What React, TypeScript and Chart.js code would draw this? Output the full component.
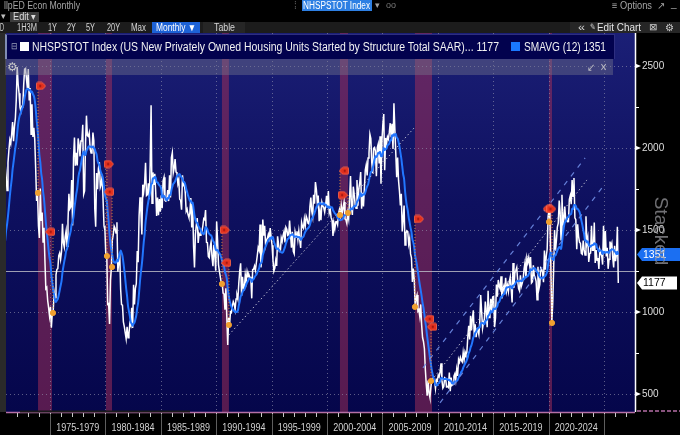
import React, { useEffect, useRef } from 'react';
import { Chart, registerables } from 'chart.js';

Chart.register(...registerables);

// ---------- DATA ----------
const firstYear = 1970; // first monthly observation: Jan 1970
// NHSPSTOT monthly, thousands of units SAAR
const housingStarts: number[] = [
  // 1970
  1085, 1305, 1319, 1264, 1290, 1385, 1517, 1399, 1534, 1580, 1647, 1893,
  // 1971
  1828, 1741, 1910, 1986, 2049, 2026, 2083, 2158, 2041, 2128, 2182, 2295,
  // 1972
  2494, 2390, 2334, 2249, 2221, 2254, 2252, 2382, 2481, 2485, 2421, 2366,
  // 1973
  2481, 2289, 2365, 2084, 2266, 2067, 2123, 2051, 1874, 1677, 1724, 1526,
  // 1974
  1451, 1752, 1555, 1607, 1426, 1513, 1316, 1142, 1150, 1070, 1026, 975,
  // 1975
  1032, 904, 993, 1005, 1121, 1087, 1226, 1260, 1264, 1344, 1360, 1321,
  // 1976
  1367, 1538, 1421, 1395, 1459, 1495, 1401, 1550, 1720, 1629, 1641, 1804,
  // 1977
  1527, 1943, 2063, 1892, 1971, 1893, 2058, 2020, 1949, 2042, 2042, 2142,
  // 1978
  1718, 1738, 2032, 2197, 2075, 2070, 2092, 1996, 1970, 1981, 2094, 2044,
  // 1979
  1630, 1520, 1847, 1748, 1876, 1913, 1760, 1778, 1832, 1681, 1524, 1498,
  // 1980
  1341, 1350, 1047, 1051, 927, 1196, 1269, 1436, 1471, 1523, 1510, 1482,
  // 1981
  1547, 1246, 1306, 1360, 1140, 1045, 1041, 940, 911, 873, 837, 910,
  // 1982
  843, 866, 931, 917, 1025, 902, 1166, 1046, 1144, 1173, 1372, 1303,
  // 1983
  1586, 1699, 1606, 1472, 1776, 1733, 1785, 1910, 1710, 1715, 1785, 1688,
  // 1984
  1897, 2260, 1663, 1851, 1774, 1843, 1732, 1586, 1698, 1590, 1689, 1612,
  // 1985
  1711, 1632, 1800, 1821, 1680, 1676, 1684, 1743, 1676, 1834, 1698, 1942,
  // 1986
  1972, 1848, 1876, 1933, 1854, 1847, 1782, 1807, 1687, 1681, 1623, 1833,
  // 1987
  1774, 1784, 1726, 1614, 1628, 1594, 1575, 1605, 1695, 1515, 1656, 1400,
  // 1988
  1271, 1473, 1532, 1573, 1421, 1478, 1467, 1493, 1492, 1522, 1569, 1563,
  // 1989
  1621, 1425, 1422, 1339, 1331, 1397, 1427, 1332, 1279, 1410, 1351, 1251,
  // 1990
  1551, 1437, 1289, 1248, 1212, 1177, 1171, 1115, 1110, 1014, 1145, 969,
  // 1991
  798, 965, 921, 1001, 996, 1036, 1063, 1049, 1015, 1079, 1103, 1079,
  // 1992
  1176, 1250, 1297, 1099, 1214, 1145, 1139, 1226, 1186, 1244, 1214, 1227,
  // 1993
  1210, 1210, 1083, 1258, 1260, 1280, 1254, 1300, 1343, 1392, 1376, 1533,
  // 1994
  1272, 1337, 1564, 1465, 1526, 1409, 1439, 1450, 1474, 1450, 1511, 1455,
  // 1995
  1407, 1316, 1249, 1267, 1314, 1281, 1461, 1416, 1369, 1369, 1452, 1431,
  // 1996
  1467, 1491, 1424, 1516, 1504, 1467, 1472, 1557, 1475, 1392, 1489, 1370,
  // 1997
  1355, 1486, 1457, 1492, 1442, 1494, 1437, 1390, 1546, 1520, 1510, 1566,
  // 1998
  1525, 1584, 1567, 1540, 1536, 1641, 1698, 1614, 1582, 1715, 1660, 1792,
  // 1999
  1748, 1670, 1710, 1553, 1611, 1559, 1669, 1648, 1635, 1608, 1648, 1708,
  // 2000
  1636, 1737, 1604, 1626, 1575, 1559, 1463, 1541, 1507, 1549, 1551, 1532,
  // 2001
  1600, 1625, 1590, 1649, 1605, 1636, 1670, 1567, 1562, 1540, 1602, 1568,
  // 2002
  1698, 1829, 1642, 1592, 1764, 1717, 1655, 1633, 1804, 1648, 1753, 1788,
  // 2003
  1853, 1629, 1726, 1643, 1751, 1867, 1897, 1833, 1939, 1967, 2083, 2057,
  // 2004
  1911, 1846, 1998, 2003, 1981, 1828, 2002, 2024, 1905, 2072, 1782, 2042,
  // 2005
  2144, 2207, 1864, 2061, 2025, 2068, 2054, 2095, 2151, 2065, 2147, 1994,
  // 2006
  2273, 2119, 1969, 1821, 1942, 1802, 1737, 1650, 1720, 1491, 1570, 1649,
  // 2007
  1409, 1480, 1495, 1490, 1415, 1448, 1354, 1330, 1183, 1264, 1197, 1037,
  // 2008
  1084, 1103, 1005, 1013, 973, 1046, 923, 844, 820, 777, 652, 560,
  // 2009
  490, 582, 505, 478, 540, 585, 594, 586, 585, 534, 588, 581,
  // 2010
  614, 604, 636, 687, 583, 536, 546, 599, 594, 543, 545, 539,
  // 2011
  630, 517, 600, 554, 561, 608, 623, 585, 650, 610, 711, 694,
  // 2012
  723, 704, 695, 753, 708, 757, 740, 754, 847, 915, 833, 976,
  // 2013
  888, 962, 1010, 853, 925, 846, 893, 889, 863, 941, 1103, 1003,
  // 2014
  901, 934, 957, 1063, 1004, 907, 1129, 966, 1017, 1080, 1001, 1092,
  // 2015
  1095, 908, 963, 1167, 1093, 1195, 1156, 1141, 1217, 1082, 1138, 1158,
  // 2016
  1112, 1208, 1129, 1162, 1126, 1186, 1214, 1141, 1058, 1298, 1147, 1239,
  // 2017
  1253, 1271, 1192, 1143, 1129, 1223, 1156, 1176, 1205, 1264, 1302, 1208,
  // 2018
  1329, 1300, 1331, 1287, 1335, 1177, 1184, 1284, 1221, 1209, 1187, 1074,
  // 2019
  1275, 1139, 1168, 1268, 1261, 1242, 1182, 1375, 1257, 1340, 1384, 1583,
  // 2020
  1622, 1560, 1268, 931, 1053, 1263, 1500, 1373, 1437, 1518, 1541, 1680,
  // 2021
  1608, 1441, 1715, 1528, 1565, 1642, 1567, 1563, 1550, 1551, 1687, 1710,
  // 2022
  1657, 1805, 1705, 1817, 1574, 1562, 1382, 1534, 1461, 1426, 1419, 1357,
  // 2023
  1352, 1436, 1380, 1348, 1583, 1418, 1451, 1305, 1356, 1359, 1525, 1376,
  // 2024
  1376, 1546, 1299, 1377, 1315, 1329, 1262, 1379, 1355, 1344, 1289, 1526,
  // 2025
  1366, 1494, 1339, 1392, 1263, 1321, 1429, 1400, 1420, 1330, 1272, 1404,
  // 2026
  1310, 1350, 1520, 1177,
];
const smaWindow = 12;

const periodBreaks = [1975, 1980, 1985, 1990, 1995, 2000, 2005, 2010, 2015, 2020, 2025];
const periodLabels = ['1975-1979', '1980-1984', '1985-1989', '1990-1994', '1995-1999', '2000-2004', '2005-2009', '2010-2014', '2015-2019', '2020-2024'];
const yTickValues = [500, 750, 1000, 1250, 1500, 1750, 2000, 2250, 2500];
const referenceLevel = 1250;

const recessionStart = [1973.92, 1980.05, 1990.52, 2001.17, 2007.94, 2020.04];
const recessionEnd = [1975.18, 1980.6, 1991.15, 2001.9, 2009.48, 2020.31];

// event markers
const redMarkerYears = [1974.19, 1975.0, 1980.32, 1980.32, 1990.79, 1990.88, 2001.53, 2001.44, 2008.3, 2009.2, 2009.48, 2019.93, 2020.25];
const redMarkerValues = [2378, 1488, 1902, 1732, 1500, 1299, 1860, 1713, 1567, 957, 909, 1628, 1628];
const redMarkerRotation = [0, 180, 0, 180, 0, 180, 180, 0, 0, 180, 180, 180, 0];
const orangeYears = [1973.92, 1975.27, 1980.14, 1980.6, 1990.52, 1991.15, 2001.17, 2001.9, 2007.94, 2009.39, 2020.04, 2020.31];
const orangeValues = [1726, 994, 1341, 1274, 1171, 921, 1591, 1604, 1031, 579, 1549, 933];
const connectorFromValues = [2378, 1488, 1902, 1732, 1500, 1299, 1860, 1713, 1567, 909, 1628, 1628];

// trend lines [x0, x1] / [y0, y1]
const trendWhiteAYears = [1991.15, 2007.94];
const trendWhiteAValues = [860, 2128];
const trendWhiteBYears = [2009.47, 2023.46];
const trendWhiteBValues = [585, 1805];
const channelUpperYears = [2008.66, 2023.3];
const channelUpperValues = [659, 1939];
const channelLowerYears = [2010.2, 2024.8];
const channelLowerValues = [445, 1756];

const lastValueLabel = '1177';
const smaValueLabel = '1351';

// ---------- helpers ----------
const FONT = '"Liberation Sans", Arial, sans-serif';
const monthX = (i: number) => firstYear + (i + 0.5) / 12;

function makeTagImage(): HTMLCanvasElement {
  const c = document.createElement('canvas');
  c.width = 10;
  c.height = 9;
  const g = c.getContext('2d')!;
  g.fillStyle = '#e3311f';
  g.strokeStyle = '#ff6a4a';
  g.lineWidth = 0.8;
  g.beginPath();
  g.moveTo(1.5, 1);
  g.lineTo(5.5, 1);
  g.quadraticCurveTo(7.2, 1, 9.5, 4.5);
  g.quadraticCurveTo(7.2, 8, 5.5, 8);
  g.lineTo(1.5, 8);
  g.quadraticCurveTo(0.5, 8, 0.5, 7);
  g.lineTo(0.5, 2);
  g.quadraticCurveTo(0.5, 1, 1.5, 1);
  g.closePath();
  g.fill();
  g.stroke();
  g.fillStyle = 'rgba(130,10,10,0.85)';
  g.beginPath();
  g.arc(4.2, 4.5, 1.1, 0, Math.PI * 2);
  g.fill();
  return c;
}

function Txt(props: { x: number; y: number; w?: number; size?: number; color?: string; children: any; h?: number }) {
  const { x, y, w, size = 10, color = '#cfcfcf', children, h } = props;
  return (
    <span
      data-fit={w ?? ''}
      style={{
        position: 'absolute',
        left: x,
        top: y,
        fontSize: size,
        lineHeight: `${h ?? size + 2}px`,
        color,
        whiteSpace: 'nowrap',
        display: 'inline-block',
        transformOrigin: 'left center',
        fontFamily: FONT,
      }}
    >
      {children}
    </span>
  );
}

const decorPlugin = {
  id: 'bbgDecor',
  beforeDraw(chart: any) {
    const { ctx, chartArea: ca, scales } = chart;
    const xs = scales.x;
    const ys = scales.y;
    ctx.save();
    ctx.fillStyle = '#000';
    ctx.fillRect(0, 0, chart.width, chart.height);
    const g = ctx.createLinearGradient(0, ca.top, 0, ca.bottom);
    g.addColorStop(0, '#1b1f76');
    g.addColorStop(0.45, '#0e105f');
    g.addColorStop(1, '#05064b');
    ctx.fillStyle = g;
    ctx.fillRect(ca.left, ca.top, ca.right - ca.left, ca.bottom - ca.top);
    // left tool strip
    ctx.fillStyle = '#2a2a2a';
    ctx.fillRect(0, ca.top, ca.left, ca.bottom - ca.top);
    // recession bands
    ctx.fillStyle = 'rgba(170,48,85,0.5)';
    recessionStart.forEach((s, i) => {
      const a = xs.getPixelForValue(s);
      const b = xs.getPixelForValue(recessionEnd[i]);
      ctx.fillRect(a, ca.top, b - a, ca.bottom - ca.top);
    });
    // dotted grid
    ctx.strokeStyle = 'rgba(150,150,175,0.6)';
    ctx.lineWidth = 1;
    ctx.setLineDash([1, 3]);
    yTickValues.filter((v) => v % 500 === 0).forEach((v) => {
      const py = Math.round(ys.getPixelForValue(v)) + 0.5;
      ctx.beginPath();
      ctx.moveTo(ca.left, py);
      ctx.lineTo(ca.right, py);
      ctx.stroke();
    });
    periodBreaks.forEach((yr) => {
      const px = Math.round(xs.getPixelForValue(yr)) + 0.5;
      ctx.beginPath();
      ctx.moveTo(px, ca.top);
      ctx.lineTo(px, ca.bottom);
      ctx.stroke();
    });
    ctx.setLineDash([]);
    // reference horizontal line
    const ry = Math.round(ys.getPixelForValue(referenceLevel)) + 0.5;
    ctx.strokeStyle = 'rgba(185,185,195,0.85)';
    ctx.beginPath();
    ctx.moveTo(ca.left, ry);
    ctx.lineTo(ca.right, ry);
    ctx.stroke();
    ctx.restore();
  },
  afterDraw(chart: any) {
    const { ctx, chartArea: ca, scales } = chart;
    const xs = scales.x;
    const ys = scales.y;
    ctx.save();
    // right axis line
    ctx.strokeStyle = '#ffffff';
    ctx.lineWidth = 1.5;
    ctx.beginPath();
    ctx.moveTo(ca.right + 0.5, ca.top);
    ctx.lineTo(ca.right + 0.5, ca.bottom);
    ctx.stroke();
    // y tick marks
    ctx.fillStyle = '#ffffff';
    ctx.lineWidth = 1;
    yTickValues.forEach((v) => {
      const py = ys.getPixelForValue(v);
      if (v % 500 === 0) {
        ctx.beginPath();
        ctx.moveTo(ca.right, py - 2.5);
        ctx.lineTo(ca.right + 6, py);
        ctx.lineTo(ca.right, py + 2.5);
        ctx.closePath();
        ctx.fill();
      } else {
        ctx.beginPath();
        ctx.moveTo(ca.right, Math.round(py) + 0.5);
        ctx.lineTo(ca.right + 4, Math.round(py) + 0.5);
        ctx.stroke();
      }
    });
    // x axis line
    const by = ca.bottom;
    ctx.strokeStyle = '#b56fa6';
    ctx.lineWidth = 1.5;
    ctx.beginPath();
    ctx.moveTo(ca.left, by + 0.5);
    ctx.lineTo(ca.right, by + 0.5);
    ctx.stroke();
    ctx.setLineDash([4, 2]);
    ctx.beginPath();
    ctx.moveTo(ca.right + 2, by - 1);
    ctx.lineTo(chart.width, by - 1);
    ctx.stroke();
    ctx.setLineDash([]);
    // scroll handle
    ctx.strokeStyle = '#1a1a1a';
    ctx.lineWidth = 2;
    ctx.beginPath();
    ctx.moveTo(20, by - 0.5);
    ctx.lineTo(190, by - 0.5);
    ctx.stroke();
    // yearly ticks
    ctx.strokeStyle = '#c8c8c8';
    ctx.lineWidth = 1;
    for (let yr = Math.ceil(xs.min); yr <= xs.max; yr++) {
      const px = Math.round(xs.getPixelForValue(yr)) + 0.5;
      ctx.beginPath();
      ctx.moveTo(px, by + 1);
      ctx.lineTo(px, by + 5);
      ctx.stroke();
    }
    // period separators
    ctx.strokeStyle = '#5e5e5e';
    periodBreaks.forEach((yr) => {
      const px = Math.round(xs.getPixelForValue(yr)) + 0.5;
      ctx.beginPath();
      ctx.moveTo(px, by + 2);
      ctx.lineTo(px, chart.height);
      ctx.stroke();
    });
    // period labels
    ctx.fillStyle = '#d2d2d2';
    ctx.font = `10px ${FONT}`;
    ctx.textBaseline = 'middle';
    ctx.textAlign = 'center';
    periodLabels.forEach((lab, i) => {
      const cx = (xs.getPixelForValue(periodBreaks[i]) + xs.getPixelForValue(periodBreaks[i + 1])) / 2;
      ctx.save();
      ctx.translate(cx, by + 16);
      ctx.scale(0.9, 1);
      ctx.fillText(lab, 0, 0);
      ctx.restore();
    });
    // value tags
    const drawTag = (val: number, text: string, bg: string, fg: string, right: number) => {
      const py = ys.getPixelForValue(val);
      const x0 = ca.right + 2;
      ctx.fillStyle = bg;
      ctx.beginPath();
      ctx.moveTo(x0, py);
      ctx.lineTo(x0 + 5, py - 6.5);
      ctx.lineTo(right, py - 6.5);
      ctx.lineTo(right, py + 6.5);
      ctx.lineTo(x0 + 5, py + 6.5);
      ctx.closePath();
      ctx.fill();
      ctx.fillStyle = fg;
      ctx.font = `10.5px ${FONT}`;
      ctx.textAlign = 'left';
      ctx.textBaseline = 'middle';
      ctx.fillText(text, x0 + 6, py + 0.5);
    };
    drawTag(Number(smaValueLabel), smaValueLabel, '#1b6ff2', '#ffffff', chart.width);
    drawTag(Number(lastValueLabel), lastValueLabel, '#ffffff', '#000000', chart.width - 3);
    // "Stacked" watermark
    ctx.save();
    ctx.translate(chart.width - 20, 231);
    ctx.rotate(Math.PI / 2);
    ctx.fillStyle = 'rgba(150,150,155,0.75)';
    ctx.font = `19px ${FONT}`;
    ctx.textAlign = 'center';
    ctx.textBaseline = 'middle';
    ctx.fillText('Stacked', 0, 0);
    ctx.restore();
    ctx.restore();
  },
};

export default function App() {
  const canvasRef = useRef<HTMLCanvasElement | null>(null);
  const rootRef = useRef<HTMLDivElement | null>(null);

  useEffect(() => {
    document.body.style.margin = '0';
    document.body.style.background = '#000';
    const canvas = canvasRef.current;
    if (!canvas) return;

    const series = housingStarts.map((v, i) => ({ x: monthX(i), y: v }));
    const sma: { x: number; y: number }[] = [];
    for (let i = smaWindow - 1; i < housingStarts.length; i++) {
      let s = 0;
      for (let k = i - smaWindow + 1; k <= i; k++) s += housingStarts[k];
      sma.push({ x: monthX(i), y: s / smaWindow });
    }
    const connectors: { x: number; y: number | null }[] = [];
    orangeYears.forEach((yr, i) => {
      connectors.push({ x: yr, y: connectorFromValues[i] });
      connectors.push({ x: yr, y: orangeValues[i] });
      connectors.push({ x: yr, y: null });
    });
    const seg = (xa: number[], ya: number[]) => xa.map((x, i) => ({ x, y: ya[i] }));
    const tagImg = makeTagImage();

    const chart = new Chart(canvas, {
      type: 'line',
      data: {
        datasets: [
          {
            label: 'red markers',
            data: redMarkerYears.map((x, i) => ({ x, y: redMarkerValues[i] })),
            showLine: false,
            pointStyle: tagImg,
            pointRadius: 5,
            pointRotation: redMarkerRotation,
            order: 0,
          } as any,
          {
            label: 'orange markers',
            data: orangeYears.map((x, i) => ({ x, y: orangeValues[i] })),
            showLine: false,
            pointRadius: 2.6,
            pointBackgroundColor: '#f0a030',
            pointBorderColor: '#f0a030',
            order: 1,
          },
          {
            label: 'connectors',
            data: connectors,
            borderColor: 'rgba(235,150,60,0.85)',
            borderWidth: 1,
            borderDash: [1, 2],
            pointRadius: 0,
            spanGaps: false,
            order: 2,
          },
          {
            label: 'trend A',
            data: seg(trendWhiteAYears, trendWhiteAValues),
            borderColor: 'rgba(215,215,225,0.8)',
            borderWidth: 1,
            borderDash: [1.5, 2.5],
            pointRadius: 0,
            order: 3,
          },
          {
            label: 'trend B',
            data: seg(trendWhiteBYears, trendWhiteBValues),
            borderColor: 'rgba(215,215,225,0.8)',
            borderWidth: 1,
            borderDash: [1.5, 2.5],
            pointRadius: 0,
            order: 3,
          },
          {
            label: 'channel upper',
            data: seg(channelUpperYears, channelUpperValues),
            borderColor: 'rgba(110,140,230,0.9)',
            borderWidth: 1.2,
            borderDash: [5, 6],
            pointRadius: 0,
            order: 3,
          },
          {
            label: 'channel lower',
            data: seg(channelLowerYears, channelLowerValues),
            borderColor: 'rgba(110,140,230,0.9)',
            borderWidth: 1.2,
            borderDash: [5, 6],
            pointRadius: 0,
            order: 3,
          },
          {
            label: 'SMAVG (12)',
            data: sma,
            borderColor: '#2276ff',
            borderWidth: 2,
            pointRadius: 0,
            tension: 0.3,
            order: 4,
          },
          {
            label: 'NHSPSTOT Index',
            data: series,
            borderColor: '#ffffff',
            borderWidth: 1.5,
            pointRadius: 0,
            tension: 0,
            order: 5,
          },
        ],
      },
      options: {
        animation: false,
        responsive: false,
        maintainAspectRatio: false,
        layout: { padding: { left: 6, top: 33, bottom: 23, right: 0 } },
        plugins: { legend: { display: false }, tooltip: { enabled: false } },
        events: [],
        scales: {
          x: { type: 'linear', min: 1971.03, max: 2027.8, display: false },
          y: {
            type: 'linear',
            position: 'right',
            min: 390,
            max: 2701,
            afterBuildTicks: (s: any) => {
              s.ticks = yTickValues.map((v) => ({ value: v }));
            },
            afterFit: (s: any) => {
              s.width = 45;
            },
            grid: { display: false, drawTicks: false },
            border: { display: false },
            ticks: {
              color: '#dedede',
              padding: 7,
              font: { family: FONT, size: 10 },
              callback: (v: any) => (Number(v) % 500 === 0 ? String(v) : ''),
            },
          },
        },
      },
      plugins: [decorPlugin],
    } as any);

    // fit header/legend texts to their measured widths
    rootRef.current?.querySelectorAll<HTMLElement>('[data-fit]').forEach((el) => {
      const target = Number(el.dataset.fit);
      if (!target) return;
      el.style.transform = 'none';
      const nat = el.getBoundingClientRect().width;
      if (nat > 0) el.style.transform = `scaleX(${target / nat})`;
    });

    return () => chart.destroy();
  }, []);

  return (
    <div
      ref={rootRef}
      style={{ position: 'relative', width: 680, height: 435, background: '#000', overflow: 'hidden', fontFamily: FONT }}
    >
      <canvas ref={canvasRef} width={680} height={435} style={{ position: 'absolute', left: 0, top: 0, width: 680, height: 435 }} />

      {/* row 1 */}
      <Txt x={4} y={0} w={76} size={10} color="#a4a4a4">llpED Econ Monthly</Txt>
      <Txt x={294} y={0} size={10} color="#5a5a5a">⁞</Txt>
      <div style={{ position: 'absolute', left: 302, top: 0, width: 70, height: 11, background: '#2d7fe3' }} />
      <Txt x={303} y={0} w={67} size={10} h={11} color="#ffffff">NHSPSTOT Index</Txt>
      <Txt x={375} y={0} size={9} color="#a0a0a0">▾</Txt>
      <Txt x={386} y={0} w={10} size={9} color="#7a7a7a">oo</Txt>
      <Txt x={612} y={0} w={40} size={10} color="#a4a4a4">≡ Options</Txt>
      <Txt x={657} y={0} size={10} color="#a4a4a4">↗</Txt>
      <Txt x={671} y={-2} size={10} color="#a4a4a4">_</Txt>

      {/* row 2 */}
      <Txt x={1} y={11} size={9} color="#bdbdbd">▾</Txt>
      <div style={{ position: 'absolute', left: 10, top: 12, width: 29, height: 10, background: '#3c3c3c' }} />
      <Txt x={13} y={11} w={23} size={10} color="#dcdcdc">Edit ▾</Txt>

      {/* row 3 toolbar */}
      <div style={{ position: 'absolute', left: 0, top: 22, width: 680, height: 11, background: '#1c1c1c' }} />
      <div style={{ position: 'absolute', left: 203, top: 22, width: 42, height: 11, background: '#262626' }} />
      <div style={{ position: 'absolute', left: 570, top: 22, width: 110, height: 11, background: '#262626' }} />
      <div style={{ position: 'absolute', left: 152, top: 22, width: 48, height: 11, background: '#1d62d6' }} />
      <Txt x={0} y={22} w={4} size={10} h={11} color="#d6d6d6">D</Txt>
      <Txt x={17} y={22} w={20} size={10} h={11} color="#d6d6d6">1H3M</Txt>
      <Txt x={48} y={22} w={9} size={10} h={11} color="#d6d6d6">1Y</Txt>
      <Txt x={67} y={22} w={9} size={10} h={11} color="#d6d6d6">2Y</Txt>
      <Txt x={86} y={22} w={9} size={10} h={11} color="#d6d6d6">5Y</Txt>
      <Txt x={107} y={22} w={13} size={10} h={11} color="#d6d6d6">20Y</Txt>
      <Txt x={131} y={22} w={15} size={10} h={11} color="#d6d6d6">Max</Txt>
      <Txt x={156} y={22} w={40} size={10} h={11} color="#ffffff">Monthly ▼</Txt>
      <Txt x={214} y={22} w={21} size={10} h={11} color="#d6d6d6">Table</Txt>
      <Txt x={578} y={22} w={7} size={10} h={11} color="#d6d6d6">«</Txt>
      <Txt x={590} y={22} w={6} size={9} h={11} color="#d6d6d6">✎</Txt>
      <Txt x={597} y={22} w={44} size={10} h={11} color="#e6e6e6">Edit Chart</Txt>
      <Txt x={649} y={22} w={9} size={9} h={11} color="#cfcfcf">⊠</Txt>
      <Txt x={665} y={22} w={9} size={10} h={11} color="#cfcfcf">⚙</Txt>

      {/* legend */}
      <div
        style={{
          position: 'absolute',
          left: 5,
          top: 34,
          width: 607,
          height: 24,
          background: '#02024e',
          borderTop: '1px solid #2e2e80',
          borderRight: '1px solid #2e2e80',
          borderLeft: '2px solid #7f8cb3',
        }}
      />
      <Txt x={11} y={41} w={7} size={9} color="#9aa0b8">⊟</Txt>
      <div style={{ position: 'absolute', left: 20, top: 42, width: 9, height: 9, background: '#ffffff' }} />
      <Txt x={32} y={40} w={467} size={12} h={14} color="#f2f2f2">
        NHSPSTOT Index (US New Privately Owned Housing Units Started by Structure Total SAAR)... {lastValueLabel}
      </Txt>
      <div style={{ position: 'absolute', left: 511, top: 42, width: 9, height: 9, background: '#1a78ff' }} />
      <Txt x={524} y={40} w={82} size={12} h={14} color="#f2f2f2">SMAVG (12) {smaValueLabel}</Txt>

      {/* strip under legend */}
      <div style={{ position: 'absolute', left: 5, top: 59, width: 608, height: 16, background: 'rgba(120,120,140,0.42)' }} />
      <Txt x={7} y={60} w={11} size={12} h={14} color="#c8c8c8">⚙</Txt>
      <Txt x={587} y={60} w={8} size={11} h={14} color="#b8b8c0">↙</Txt>
      <Txt x={600} y={60} w={7} size={11} h={14} color="#b8b8c0">✕</Txt>
    </div>
  );
}
